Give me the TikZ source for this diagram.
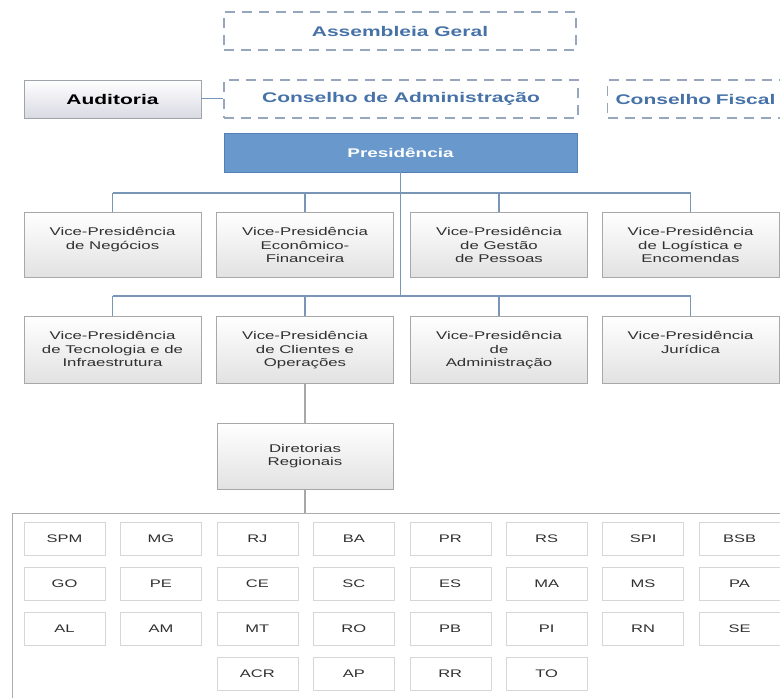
\documentclass[tikz,border=0pt]{standalone}
\usepackage{fontspec}
\setmainfont[FakeStretch=1.5]{Liberation Sans}
\usetikzlibrary{positioning}

\definecolor{linkblue}{RGB}{122,150,182}
\definecolor{dashgray}{RGB}{150,166,188}
\definecolor{titleblue}{RGB}{70,114,168}
\definecolor{presfill}{RGB}{104,152,204}
\definecolor{presedge}{RGB}{84,128,178}
\definecolor{boxgray}{RGB}{168,168,168}
\definecolor{boxshade}{RGB}{226,226,226}
\definecolor{vptext}{RGB}{48,48,48}
\definecolor{ufgray}{RGB}{214,214,214}
\definecolor{regline}{RGB}{172,172,172}

\begin{document}
\begin{tikzpicture}[x=1pt, y=-1pt,
    dashbox/.style={draw=dashgray, line width=1.1pt, dash pattern=on 10pt off 7pt,
        minimum height=38pt, inner sep=0pt, text=titleblue,
        font=\fontsize{14}{16}\selectfont\bfseries},
    vp/.style={draw=boxgray, top color=white, bottom color=boxshade,
        minimum width=177pt, minimum height=65pt, inner sep=0pt, align=center,
        text=vptext, font=\fontsize{11.2}{13.5}\selectfont},
    vplbl/.style={anchor=north, yshift=-15.5pt, inner sep=0pt, align=center,
        text=vptext, font=\fontsize{11.2}{13.5}\selectfont},
    uf/.style={draw=ufgray, fill=white, minimum width=81pt, minimum height=33pt,
        inner sep=0pt, text=vptext, font=\fontsize{11}{13}\selectfont},
    conn/.style={draw=linkblue, line width=1.3pt}]

    \useasboundingbox (0,0) rectangle (780,698);
    \clip (0,0) rectangle (780,698);

    % top bodies
    \node[dashbox, minimum width=352pt] (asm) at (400,31) {Assembleia Geral};
    \node[dashbox, minimum width=354pt] (cadm) at (401,99) {Conselho de Administração};
    \node[dashbox, anchor=west, text width=200pt, align=left, inner xsep=8pt]
        (cfis) at (607,99) {Conselho Fiscal};
    \node[draw=boxgray!80!linkblue, top color=white, bottom color=blue!4!boxshade,
        minimum width=177pt, minimum height=38pt, inner sep=0pt,
        font=\fontsize{14}{16}\selectfont\bfseries] (aud) at (112.5,99) {Auditoria};
    \node[draw=presedge, fill=presfill, minimum width=353pt, minimum height=39pt,
        inner sep=0pt, text=white, font=\fontsize{12.6}{15}\selectfont\bfseries]
        (pres) at (400.5,152.5) {Presidência};
    \draw[draw=linkblue, line width=1pt] (aud.east) -- (cadm.west);

    % vice-presidencias
    \node[vp, label={[vplbl]north:{Vice-Presidência\\de Negócios}}] (vp1) at (112.5,244.5) {};
    \node[vp, label={[vplbl]north:{Vice-Presidência\\Econômico-\\Financeira}}] (vp2) at (305,244.5) {};
    \node[vp, label={[vplbl]north:{Vice-Presidência\\de Gestão\\de Pessoas}}] (vp3) at (499,244.5) {};
    \node[vp, label={[vplbl]north:{Vice-Presidência\\de Logística e\\Encomendas}}] (vp4) at (690.5,244.5) {};
    \node[vp, minimum height=67pt, label={[vplbl]north:{Vice-Presidência\\de Tecnologia e de\\Infraestrutura}}] (vp5) at (112.5,349.5) {};
    \node[vp, minimum height=67pt, label={[vplbl]north:{Vice-Presidência\\de Clientes e\\Operações}}] (vp6) at (305,349.5) {};
    \node[vp, minimum height=67pt, label={[vplbl]north:{Vice-Presidência\\de\\Administração}}] (vp7) at (499,349.5) {};
    \node[vp, minimum height=67pt, label={[vplbl]north:{Vice-Presidência\\Jurídica}}] (vp8) at (690.5,349.5) {};

    \coordinate (bus1) at (0,193);
    \coordinate (bus2) at (0,296);
    \draw[conn] (pres.south) -- (pres.south |- bus2);
    \draw[conn] (vp1.north |- bus1) -- (vp4.north |- bus1);
    \draw[conn] (vp5.north |- bus2) -- (vp8.north |- bus2);
    \foreach \n in {vp1,vp2,vp3,vp4}
        \draw[conn] (\n.north |- bus1) -- (\n.north);
    \foreach \n in {vp5,vp6,vp7,vp8}
        \draw[conn] (\n.north |- bus2) -- (\n.north);

    % diretorias regionais
    \node[vp, minimum width=176pt, minimum height=66pt] (dir) at (305,456) {Diretorias\\Regionais};
    \node[draw=regline, line width=1.2pt, anchor=north west, minimum width=820pt,
        minimum height=260pt] (reg) at (12,513) {};
    \draw[draw=boxgray, line width=1.3pt] (vp6.south) -- (dir.north);
    \draw[draw=boxgray, line width=1.3pt] (dir.south) -- (dir.south |- reg.north);

    \def\dx{96.43} % column step
    \def\dy{45.2}  % row step
    \foreach \row [count=\r] in {{SPM,MG,RJ,BA,PR,RS,SPI,BSB},
                                 {GO,PE,CE,SC,ES,MA,MS,PA},
                                 {AL,AM,MT,RO,PB,PI,RN,SE}}
        \foreach \lbl [count=\c] in \row
            \node[uf] (uf\r-\c) at ({64.5+\dx*(\c-1)}, {538.5+\dy*(\r-1)}) {\lbl};
    \foreach \lbl [count=\c from 3] in {ACR,AP,RR,TO}
        \node[uf] (uf4-\c) at ({64.5+\dx*(\c-1)}, {538.5+\dy*3}) {\lbl};
\end{tikzpicture}
\end{document}
